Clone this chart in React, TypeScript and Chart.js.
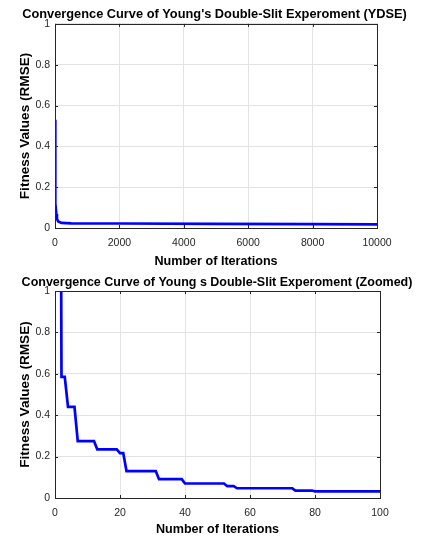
import React, { useEffect, useRef } from "react";
import { Chart, registerables } from "chart.js";

Chart.register(...registerables);

// ---------- data ----------
const topTitle = "Convergence Curve of Young's Double-Slit Experoment (YDSE)";
const bottomTitle = "Convergence Curve of Young s Double-Slit Experoment (Zoomed)";
const xTitle = "Number of Iterations";
const yTitle = "Fitness Values (RMSE)";

const topIterations = [1, 2, 4, 7, 12, 22, 40, 60, 100, 200, 500, 2000, 5000, 8000, 10000];
const topValues = [0.53, 0.45, 0.33, 0.25, 0.2, 0.12, 0.07, 0.045, 0.032, 0.025, 0.023, 0.022, 0.02, 0.019, 0.018];

const zoomIterations = [1, 2, 3, 4, 6, 7, 12, 13, 19, 20, 21, 22, 31, 32, 39, 40, 52, 53, 55, 56, 73, 74, 79, 80, 100];
const zoomValues = [5, 0.585, 0.585, 0.44, 0.44, 0.275, 0.275, 0.235, 0.235, 0.217, 0.217, 0.13, 0.13, 0.091, 0.091, 0.07, 0.07, 0.057, 0.057, 0.047, 0.047, 0.036, 0.036, 0.032, 0.032];

const yTicks = [0, 0.2, 0.4, 0.6, 0.8, 1];
const topXTicks = [0, 2000, 4000, 6000, 8000, 10000];
const zoomXTicks = [0, 20, 40, 60, 80, 100];

const FONT = "'Liberation Sans', Arial, Helvetica, sans-serif";
const AXIS_COLOR = "#262626";

const boxPlugin = {
  id: "matlabBox",
  afterDatasetsDraw(chart: any) {
    const { ctx, chartArea: a, scales } = chart;
    ctx.save();
    ctx.strokeStyle = AXIS_COLOR;
    ctx.lineWidth = 1;
    ctx.beginPath();
    const len = 3;
    scales.x.ticks.forEach((t: any) => {
      const px = Math.round(scales.x.getPixelForValue(t.value)) + 0.5;
      ctx.moveTo(px, a.bottom);
      ctx.lineTo(px, a.bottom - len);
      ctx.moveTo(px, a.top);
      ctx.lineTo(px, a.top + len);
    });
    scales.y.ticks.forEach((t: any) => {
      const py = Math.round(scales.y.getPixelForValue(t.value)) + 0.5;
      ctx.moveTo(a.left, py);
      ctx.lineTo(a.left + len, py);
      ctx.moveTo(a.right, py);
      ctx.lineTo(a.right - len, py);
    });
    ctx.stroke();
    ctx.strokeRect(Math.round(a.left) + 0.5, Math.round(a.top) + 0.5, Math.round(a.right - a.left), Math.round(a.bottom - a.top));
    ctx.restore();
  },
};

type Cfg = {
  title: string;
  titleSize: number;
  iters: number[];
  vals: number[];
  xMax: number;
  xTicks: number[];
  padLeft: number;
  padRight: number;
  titleTop: number;
  titleBottom: number;
  xAxisHeight: number;
  xTitlePadBottom: number;
};

function ConvChart({ cfg }: { cfg: Cfg }) {
  const ref = useRef<HTMLCanvasElement>(null);
  useEffect(() => {
    if (!ref.current) return;
    const chart = new Chart(ref.current, {
      type: "line",
      data: {
        datasets: [
          {
            data: cfg.iters.map((x, i) => ({ x, y: cfg.vals[i] })),
            borderColor: "#0000ff",
            borderWidth: 2.7,
            pointRadius: 0,
            tension: 0,
            fill: false,
          },
        ],
      },
      options: {
        animation: false,
        responsive: false,
        maintainAspectRatio: false,
        layout: { padding: { left: cfg.padLeft, right: 0, top: 0, bottom: 0 } },
        plugins: {
          legend: { display: false },
          tooltip: { enabled: false },
          title: {
            display: true,
            text: cfg.title,
            color: "#000000",
            font: { family: FONT, size: cfg.titleSize, weight: "bold" },
            padding: { top: cfg.titleTop, bottom: cfg.titleBottom },
          },
        },
        scales: {
          x: {
            type: "linear",
            min: 0,
            max: cfg.xMax,
            afterBuildTicks: (s: any) => {
              s.ticks = cfg.xTicks.map((v) => ({ value: v }));
            },
            afterFit: (s: any) => {
              s.height = cfg.xAxisHeight;
            },
            ticks: {
              color: AXIS_COLOR,
              font: { family: FONT, size: 10.5 },
              padding: 9,
              maxRotation: 0,
              callback: (v: any) => String(v),
            },
            grid: { color: "#e3e3e3", drawTicks: false },
            border: { display: false },
            title: {
              display: true,
              text: xTitle,
              color: "#000000",
              font: { family: FONT, size: 12.6, weight: "bold" },
              padding: { top: 0, bottom: cfg.xTitlePadBottom },
            },
          },
          y: {
            type: "linear",
            min: 0,
            max: 1,
            afterBuildTicks: (s: any) => {
              s.ticks = yTicks.map((v) => ({ value: v }));
            },
            afterFit: (s: any) => {
              s.width = 55 - cfg.padLeft;
            },
            ticks: {
              color: AXIS_COLOR,
              font: { family: FONT, size: 10.5 },
              padding: 5,
              callback: (v: any) => String(v),
            },
            grid: { color: "#e3e3e3", drawTicks: false },
            border: { display: false },
            title: {
              display: true,
              text: yTitle,
              color: "#000000",
              font: { family: FONT, size: 13.6, weight: "bold" },
              padding: { top: 17.5 - cfg.padLeft, bottom: 0 },
            },
          },
          yr: {
            type: "linear",
            position: "right",
            display: true,
            min: 0,
            max: 1,
            afterFit: (s: any) => {
              s.width = cfg.padRight;
            },
            ticks: { display: false },
            grid: { display: false },
            border: { display: false },
          },
        },
      },
      plugins: [boxPlugin],
    } as any);
    return () => chart.destroy();
  }, [cfg]);
  return <canvas ref={ref} width={424} height={270} style={{ display: "block", width: 424, height: 270 }} />;
}

const topCfg: Cfg = {
  title: topTitle,
  titleSize: 12.8,
  iters: topIterations,
  vals: topValues,
  xMax: 10000,
  xTicks: topXTicks,
  padLeft: 5,
  padRight: 47,
  titleTop: 7,
  titleBottom: 1.5,
  xAxisHeight: 42,
  xTitlePadBottom: 0.5,
};

const bottomCfg: Cfg = {
  title: bottomTitle,
  titleSize: 12.5,
  iters: zoomIterations,
  vals: zoomValues,
  xMax: 100,
  xTicks: zoomXTicks,
  padLeft: 10,
  padRight: 44,
  titleTop: 5,
  titleBottom: 1,
  xAxisHeight: 42,
  xTitlePadBottom: 2.5,
};

export default function App() {
  return (
    <div style={{ position: "absolute", left: 0, top: 0, width: 424, height: 540, background: "#ffffff" }}>
      <ConvChart cfg={topCfg} />
      <ConvChart cfg={bottomCfg} />
    </div>
  );
}
